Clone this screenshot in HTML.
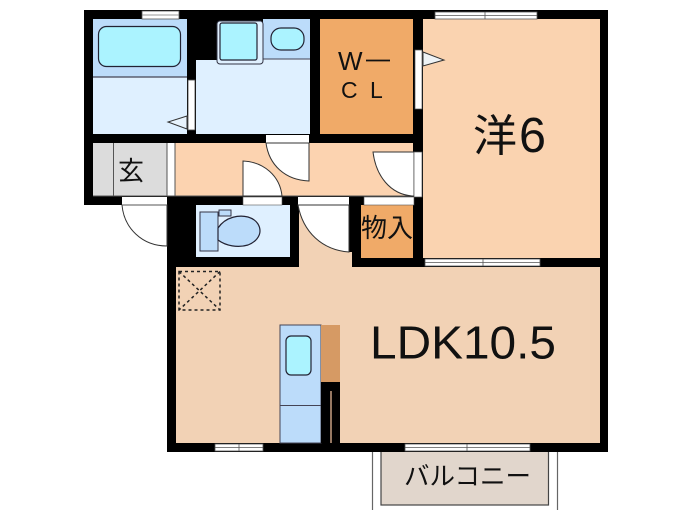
<!DOCTYPE html>
<html><head><meta charset="utf-8"><style>
html,body{margin:0;padding:0;background:#fff;width:700px;height:525px;overflow:hidden}
svg{display:block}
text{font-family:"Liberation Sans","Noto Sans CJK JP",sans-serif;fill:#111}
</style></head><body>
<svg width="700" height="525" viewBox="0 0 700 525" xmlns="http://www.w3.org/2000/svg">
<!-- balcony -->
<path d="M372.500 452V510M557.500 452V510" stroke="#666" stroke-width="1.200" fill="none"/>
<rect x="381" y="450" width="167.500" height="55" fill="#e1d6cc" stroke="#444" stroke-width="1.200"/>
<!-- wall mass -->
<path d="M84 10H608V452H167V205H84Z" fill="#000"/>
<!-- rooms -->
<rect x="93" y="19" width="94" height="58" fill="#bcdcfa"/>
<rect x="93" y="77" width="94" height="57" fill="#dff0ff"/>
<path d="M93 77H187" stroke="#445" stroke-width="1.200"/>
<path d="M196 60H263V19H310V134H196Z" fill="#dff0ff"/>
<rect x="263" y="19" width="47" height="40" fill="#bcdcfa"/>
<path d="M263 59H310" stroke="#445" stroke-width="1"/>
<rect x="217" y="21" width="46" height="43" rx="3" fill="#dff0ff" stroke="#334" stroke-width="1"/>
<rect x="220" y="23" width="37" height="37" rx="2" fill="#abf3ff" stroke="#223" stroke-width="1.200"/>
<rect x="271" y="28" width="33" height="22" rx="10" fill="#abf3ff" stroke="#223" stroke-width="1.200"/>
<rect x="98.500" y="26.500" width="82" height="40" rx="8" fill="#abf3ff" stroke="#223" stroke-width="1.200"/>
<!-- bath door -->
<rect x="188" y="80" width="7" height="50" fill="#fff" stroke="#444" stroke-width=".8"/>
<path d="M187 116L168 122L187 129Z" fill="#e8f3fc" stroke="#333" stroke-width="1"/>
<rect x="142" y="11" width="37" height="8" fill="#fff" stroke="#555" stroke-width=".8"/>
<path d="M142 15H179" stroke="#777" stroke-width=".8"/>
<!-- WCL -->
<rect x="320" y="19" width="93" height="115" fill="#f0aa68"/>
<!-- Hall -->
<rect x="175" y="143" width="238" height="53" fill="#fcd3b0"/>
<path d="M175 196H413" stroke="#555" stroke-width="1"/>
<!-- Entrance -->
<rect x="93" y="143" width="74" height="53" fill="#dcdcdc"/>
<rect x="167" y="143" width="8" height="53" fill="#fff"/>
<path d="M113.500 143V196M167 143V196M175 143V196M93 196H175" stroke="#555" stroke-width="1"/>
<!-- 洋 -->
<rect x="423" y="19" width="177" height="239" fill="#fad3b0"/>
<!-- LDK -->
<path d="M176 267H299V205H349V252H352V267H600V443H176Z" fill="#f2d2b5"/>
<!-- closet -->
<rect x="361" y="205" width="52" height="53" fill="#f0aa68"/>
<!-- toilet -->
<rect x="196" y="205" width="94" height="52" fill="#dff0ff"/>
<rect x="200" y="212" width="18" height="39" fill="#bcdcfa" stroke="#334" stroke-width="1"/>
<rect x="219" y="210" width="12" height="6" fill="#bcdcfa" stroke="#334" stroke-width="1"/>
<path d="M218 228C226 216 240 215 248 217C258 220 260 227 260 231C260 236 256 242 248 245C238 248 226 246 218 240Z" fill="#bcdcfa" stroke="#223" stroke-width="1.200"/>
<!-- doors -->
<path d="M122 205H167V246C142 246 124 228 122 205Z" fill="#fff" stroke="#333" stroke-width="1"/>
<rect x="122" y="197" width="45" height="8" fill="#fff"/>
<path d="M122 205H167" stroke="#555" stroke-width="1"/>
<rect x="266" y="135" width="43" height="8" fill="#fff"/>
<path d="M266 143H309V181C285 180 269 165 266 143Z" fill="#fff" stroke="#333" stroke-width="1"/>
<path d="M243 196V161C264 162 280 176 282 196Z" fill="#fff" stroke="#333" stroke-width="1"/>
<rect x="243" y="197" width="39" height="8" fill="#fff" stroke="#555" stroke-width=".6"/>
<rect x="298" y="197" width="51" height="8" fill="#fff"/>
<path d="M298 205H349V252C322 250 303 232 298 205Z" fill="#fff" stroke="#333" stroke-width="1"/>
<rect x="364" y="197" width="50" height="8" fill="#fff" stroke="#555" stroke-width=".6"/>
<path d="M373 152H414V196H412C390 194 376 176 373 152Z" fill="#fff" stroke="#333" stroke-width="1"/>
<rect x="414" y="152" width="8" height="45" fill="#fff" stroke="#555" stroke-width=".7"/>
<rect x="415" y="50" width="7" height="59" fill="#fff" stroke="#555" stroke-width=".7"/>
<path d="M423 52L444 60L423 66Z" fill="#eef3f6" stroke="#333" stroke-width="1"/>
<!-- windows -->
<g fill="#fff" stroke="#555" stroke-width=".8">
<rect x="435" y="12" width="102" height="7"/><path d="M435 15.500H537M485 12V19" />
<rect x="425" y="259" width="115" height="7"/><path d="M425 262.500H540M483 259V266"/>
<rect x="215" y="444" width="48" height="7"/><path d="M215 447.500H263M239 444V451"/>
<rect x="405" y="444" width="125" height="7"/><path d="M405 447.500H530M467 444V451"/>
</g>
<!-- loft -->
<g fill="none" stroke="#222" stroke-width="1.500" stroke-dasharray="3 3">
<rect x="179" y="271.500" width="41" height="38.500"/>
<path d="M179 271.500L220 310M220 271.500L179 310"/>
</g>
<!-- kitchen -->
<rect x="280" y="325" width="41" height="118" fill="#bcdcfa" stroke="#445" stroke-width="1"/>
<path d="M280 405.500H321" stroke="#445" stroke-width="1"/>
<rect x="286" y="336" width="25" height="39" rx="5" fill="#abf3ff" stroke="#223" stroke-width="1.200"/>
<rect x="321" y="325" width="19" height="57" fill="#d69a64"/>
<rect x="321" y="382" width="19" height="61" fill="#000"/>
<path d="M331 391V443" stroke="#c9a183" stroke-width="1.500"/>
<!-- labels -->
<text x="338" y="70" font-size="26">W</text>
<path d="M366 60.500H390" stroke="#111" stroke-width="1.800"/>
<text x="341" y="98" font-size="23">C</text>
<text x="370" y="98" font-size="23">L</text>
<text x="118" y="180" font-size="26">玄</text>
<text x="361" y="237" font-size="26">物入</text>
<text x="473" y="151" font-size="44">洋</text>
<text x="519" y="152" font-size="49" textLength="27" lengthAdjust="spacingAndGlyphs">6</text>
<text x="370" y="358.500" font-size="46" textLength="186" lengthAdjust="spacingAndGlyphs">LDK10.5</text>
<text x="404" y="485" font-size="25.500">バルコニー</text>
</svg>
</body></html>
